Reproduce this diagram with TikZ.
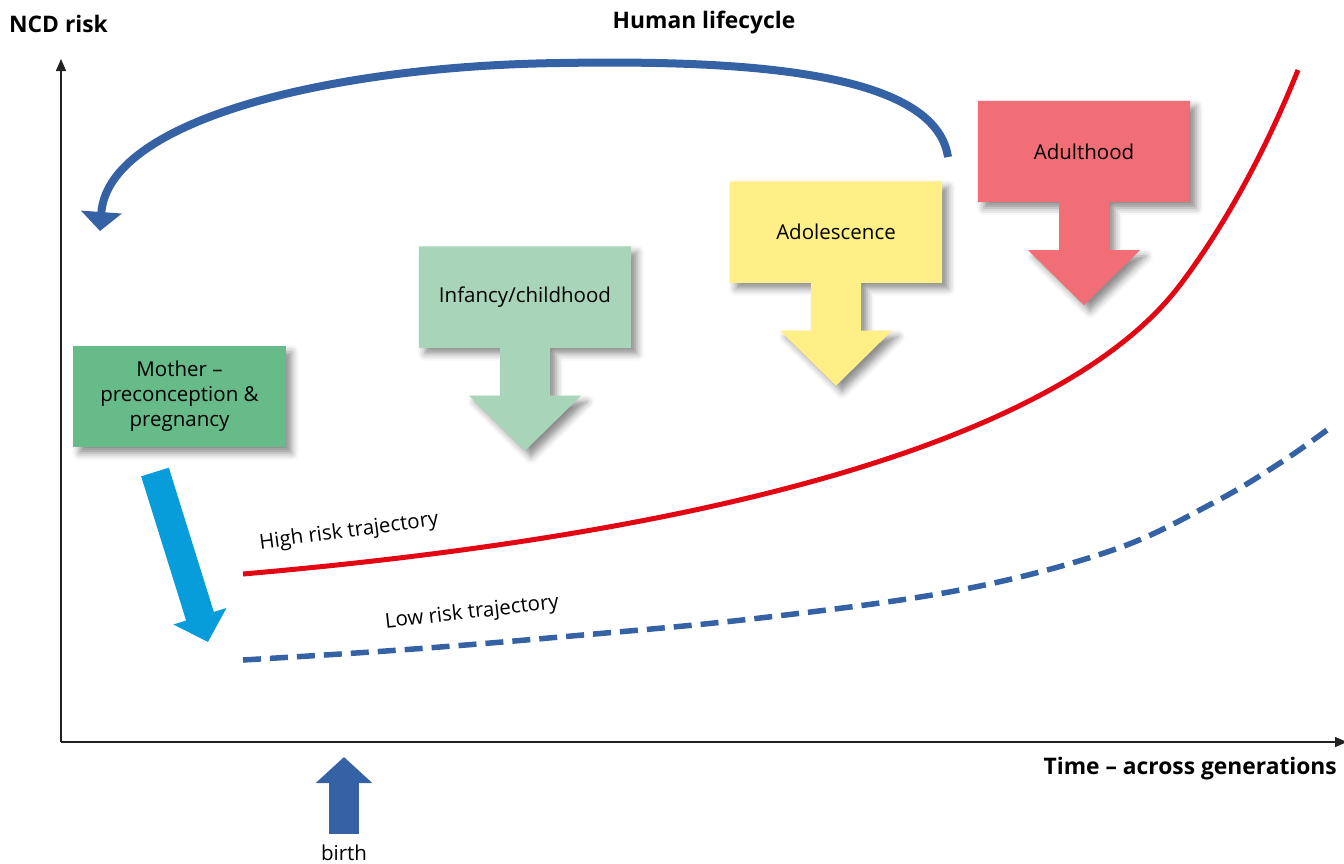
\documentclass[tikz,border=0pt]{standalone}
\usepackage{fontspec}
\setmainfont{Open Sans}
\usetikzlibrary{arrows.meta,shadows.blur,backgrounds,calc}
\definecolor{mothergreen}{HTML}{66BB88}
\definecolor{infgreen}{HTML}{A8D5B9}
\definecolor{adolyellow}{HTML}{FEEF86}
\definecolor{adultred}{HTML}{F26E76}
\definecolor{arcblue}{HTML}{3462A5}
\definecolor{cyanarrow}{HTML}{079DDB}
\definecolor{riskred}{HTML}{E30613}
\definecolor{axisgray}{HTML}{222222}
\tikzset{
  axisline/.style={draw=axisgray, line width=1.4pt, -{Triangle[width=10pt,length=12pt]}},
  titletext/.style={font=\bfseries\fontsize{22.8}{27}\selectfont, inner sep=0pt},
  boxtext/.style={font=\fontsize{20.5}{25}\selectfont, align=center},
  stagebox/.style={minimum width=212pt, minimum height=101pt, inner sep=0pt, boxtext},
  softshadow/.style={blur shadow={shadow xshift=6pt, shadow yshift=-6pt, shadow blur radius=7pt, shadow opacity=45}},
  labeltext/.style={font=\fontsize{20.5}{24}\selectfont, inner sep=0pt},
  highrisk/.style={draw=riskred, line width=5pt},
  lowrisk/.style={draw=arcblue, line width=5.5pt, dash pattern=on 18pt off 9pt},
  cyclearc/.style={draw=arcblue, line width=8pt, -{Triangle[width=40pt,length=19pt]}},
  birtharrow/.style={draw=arcblue, line width=30pt, -{Triangle[width=55pt,length=26pt]}},
  motherarrow/.style={draw=cyanarrow, line width=29pt, -{Triangle[width=54pt,length=27pt]}},
}
\newcommand{\stagearrow}[2]{%
  \fill[#2, softshadow] (#1.north west) -| (#1.south east)
    -- ([xshift=25pt]#1.south) -- ++(0,48) -- ++(31,0) -- ++(-56,55) -- ++(-56,-55)
    -- ++(31,0) -- ([xshift=-25pt]#1.south) -- (#1.south west) -- cycle;}
\begin{document}
\begin{tikzpicture}[x=1pt, y=-1pt]
\useasboundingbox (0,0) rectangle (1344,863);

% axes
\coordinate (O) at (61,742);
\coordinate (ytop) at (61,59);
\coordinate (xend) at (1347,742);
\draw[axisline] (O) -- (ytop);
\draw[axisline] (O) -- (xend);

% titles
\node[titletext] (ncd) at (58.5,24) {NCD risk};
\node[titletext] (life) at (704,23) {Human lifecycle};
\node[titletext, anchor=east] (time) at (1337,769) {Time – across generations};

% trajectories
\coordinate (hstart) at (243,574);
\coordinate (hmid) at (1180,285);
\coordinate (hend) at (1298,70);
\draw[highrisk] (hstart) .. controls (750,530) and (1070,430) .. (hmid)
  .. controls (1230,219) and (1270,140) .. (hend);
\draw[lowrisk] plot[smooth, tension=0.6] coordinates {(243,660) (400,650) (560,637) (760,618) (960,590) (1113,550) (1213,503) (1280,463) (1327,430)};
\node[labeltext, rotate=7.5] (hrl) at (349,532) {High risk trajectory};
\node[labeltext, rotate=6.5] (lrl) at (472,613) {Low risk trajectory};

% stage boxes
\node[stagebox, fill=mothergreen] (mother) at (179.5,396.5) {Mother –\\preconception \&\\pregnancy};
\node[stagebox, fill=infgreen] (infancy) at (525,297) {Infancy/childhood};
\node[stagebox, fill=adolyellow] (adol) at (836,232) {Adolescence};
\node[stagebox, fill=adultred] (adult) at (1084,151.5) {Adulthood};
\begin{scope}[on background layer]
  \fill[mothergreen, softshadow] (mother.north west) rectangle (mother.south east);
  \stagearrow{infancy}{infgreen}
  \stagearrow{adol}{adolyellow}
  \stagearrow{adult}{adultred}
\end{scope}

% lifecycle arc
\coordinate (arcstart) at (948,157);
\coordinate (arctop) at (560,63);
\coordinate (arcend) at (100,231);
\draw[cyclearc] (arcstart) .. controls (935,70) and (740,60) .. (arctop)
  .. controls (330,66) and (108,120) .. (arcend);

% mother arrow
\coordinate (mtail) at (155,472);
\coordinate (mtip) at (208,642);
\draw[motherarrow] (mtail) -- (mtip);

% birth
\coordinate (btail) at (344,834);
\coordinate (btip) at (344,757);
\draw[birtharrow] (btail) -- (btip);
\node[boxtext, anchor=base, inner sep=0pt] (birth) at (344,860) {birth};
\end{tikzpicture}
\end{document}
